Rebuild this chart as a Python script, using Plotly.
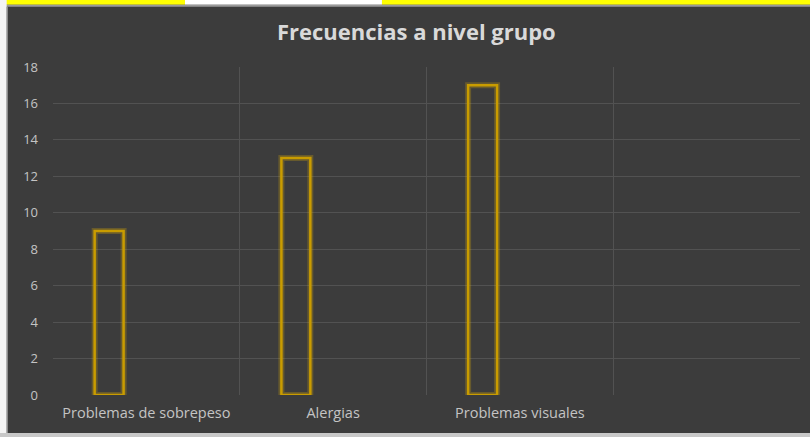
import plotly.graph_objects as go

categories = ["Problemas de sobrepeso", "Alergias", "Problemas visuales", ""]
values = [9, 13, 17, None]
y_ticks = [0, 2, 4, 6, 8, 10, 12, 14, 16, 18]
title_text = "Frecuencias a nivel grupo"

BG = "#3c3c3c"
GRID = "#525252"
GOLD = "#c99c00"
TXT = "#c4c4c4"

xpos = list(range(len(categories)))
ticks_x = [i for i, c in enumerate(categories) if c]
bounds = [i - 0.5 for i in xpos] + [len(categories) - 0.5]

fig = go.Figure()
# soft glow behind the outline
fig.add_trace(go.Bar(
    x=xpos, y=values, offset=-0.277, width=0.155,
    marker=dict(color="rgba(0,0,0,0)", line=dict(color="rgba(230,180,0,0.25)", width=6)),
    hoverinfo="skip", showlegend=False,
))
fig.add_trace(go.Bar(
    x=xpos, y=values, offset=-0.277, width=0.155,
    marker=dict(color="rgba(0,0,0,0)", line=dict(color=GOLD, width=2.5)),
    showlegend=False,
))

fig.update_layout(
    width=810, height=437,
    margin=dict(l=53, r=10, t=67, b=42),
    paper_bgcolor=BG, plot_bgcolor=BG,
    barmode="overlay",
    title=dict(text="<b>" + title_text + "</b>", x=0.514, xanchor="center", y=0.925, yanchor="middle",
               font=dict(family="Open Sans", size=22, color="#d9d9d9")),
    font=dict(family="Open Sans", color=TXT, size=12),
    xaxis=dict(
        range=[-0.5, len(categories) - 0.5],
        tickmode="array", tickvals=ticks_x, ticktext=[categories[i] for i in ticks_x],
        showgrid=False, zeroline=False, showline=False, ticks="",
        ticklabelstandoff=7,
        tickfont=dict(size=14.5, color=TXT),
        minor=dict(tickmode="array", tickvals=bounds, showgrid=True, gridcolor=GRID, gridwidth=1, ticks=""),
    ),
    yaxis=dict(
        range=[0, 18], tickmode="array", tickvals=y_ticks,
        showgrid=True, gridcolor=GRID, gridwidth=1, zeroline=False, showline=False,
        ticks="", ticklabelstandoff=14, tickfont=dict(size=13, color=TXT),
    ),
    shapes=[
        # top strip (spreadsheet cells above the chart)
        dict(type="rect", xref="paper", yref="paper", x0=-0.1, x1=0.1767, y0=1.19, y1=1.25,
             fillcolor="#ffff00", line=dict(width=0), layer="above"),
        dict(type="rect", xref="paper", yref="paper", x0=0.1767, x1=0.4404, y0=1.19, y1=1.25,
             fillcolor="#ffffff", line=dict(width=0), layer="above"),
        dict(type="rect", xref="paper", yref="paper", x0=0.4404, x1=1.1, y0=1.19, y1=1.25,
             fillcolor="#ffff00", line=dict(width=0), layer="above"),
        dict(type="rect", xref="paper", yref="paper", x0=-0.1, x1=1.1, y0=1.184, y1=1.19,
             fillcolor="#9a9a9a", line=dict(width=0), layer="above"),
        # left margin
        dict(type="rect", xref="paper", yref="paper", x0=-0.1, x1=-0.062, y0=-0.2, y1=1.25,
             fillcolor="#f4f4f4", line=dict(width=0), layer="above"),
        dict(type="rect", xref="paper", yref="paper", x0=-0.062, x1=-0.0605, y0=-0.2, y1=1.184,
             fillcolor="#a0a0a0", line=dict(width=0), layer="above"),
        # bottom strip
        dict(type="rect", xref="paper", yref="paper", x0=-0.1, x1=1.1, y0=-0.2, y1=-0.116,
             fillcolor="#c8c8c8", line=dict(width=0), layer="above"),
    ],
)

fig.write_html("out.html")
